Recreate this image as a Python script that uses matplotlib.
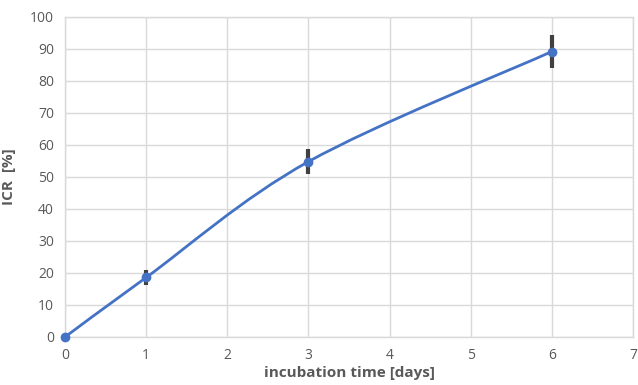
import numpy as np
import matplotlib
matplotlib.use("Agg")
import matplotlib.pyplot as plt
from matplotlib.path import Path
from matplotlib.patches import PathPatch

# incubation time [days] and ICR [%] with error bars
days = [0, 1, 3, 6]
icr = [0, 18.6, 54.8, 89.2]
icr_err = [0, 2.3, 3.8, 5.2]

x_ticks = [0, 1, 2, 3, 4, 5, 6, 7]
y_ticks = [0, 10, 20, 30, 40, 50, 60, 70, 80, 90, 100]

LINE_COLOR = "#4472C4"
TEXT_COLOR = "#595959"
GRID_COLOR = "#D9D9D9"


def smooth_path(xs, ys):
    """Excel-like smoothed line: cubic Bezier segments through the points."""
    pts = np.column_stack([xs, ys]).astype(float)
    n = len(pts)
    verts = [pts[0]]
    codes = [Path.MOVETO]
    for i in range(n - 1):
        p0 = pts[i - 1] if i > 0 else pts[i]
        p1 = pts[i]
        p2 = pts[i + 1]
        p3 = pts[i + 2] if i + 2 < n else pts[i + 1]
        c1 = p1 + (p2 - p0) / 6.0
        c2 = p2 - (p3 - p1) / 6.0
        verts += [c1, c2, p2]
        codes += [Path.CURVE4] * 3
    return Path(verts, codes)


plt.rcParams['font.family'] = ['Open Sans', 'DejaVu Sans']

fig = plt.figure(figsize=(6.38, 3.85), dpi=100)
ax = fig.add_axes([65 / 638, 1 - 337 / 385, (633 - 65) / 638, (337 - 17) / 385])

ax.set_xlim(0, 7)
ax.set_ylim(0, 100)
ax.set_xticks(x_ticks)
ax.set_yticks(y_ticks)
ax.grid(True, color=GRID_COLOR, linewidth=1)
ax.set_axisbelow(True)
for s in ax.spines.values():
    s.set_color(GRID_COLOR)
    s.set_linewidth(1)
ax.tick_params(length=0, colors=TEXT_COLOR, labelsize=10, pad=8)

# error bars
ax.errorbar(days, icr, yerr=icr_err, fmt="none", ecolor="#404040",
            elinewidth=3, capsize=0, zorder=3)

# smoothed line + markers
ax.add_patch(PathPatch(smooth_path(days, icr), facecolor="none",
                       edgecolor=LINE_COLOR, linewidth=2, zorder=4,
                       clip_on=False))
ax.plot(days, icr, "o", color=LINE_COLOR, markersize=6, zorder=5,
        clip_on=False)

ax.set_xlabel("incubation time [days]", fontsize=11, fontweight="bold",
              color=TEXT_COLOR, labelpad=2)
ax.set_ylabel("ICR  [%]", fontsize=11, fontweight="bold",
              color=TEXT_COLOR, labelpad=10)

fig.savefig("out.png", dpi=100)
